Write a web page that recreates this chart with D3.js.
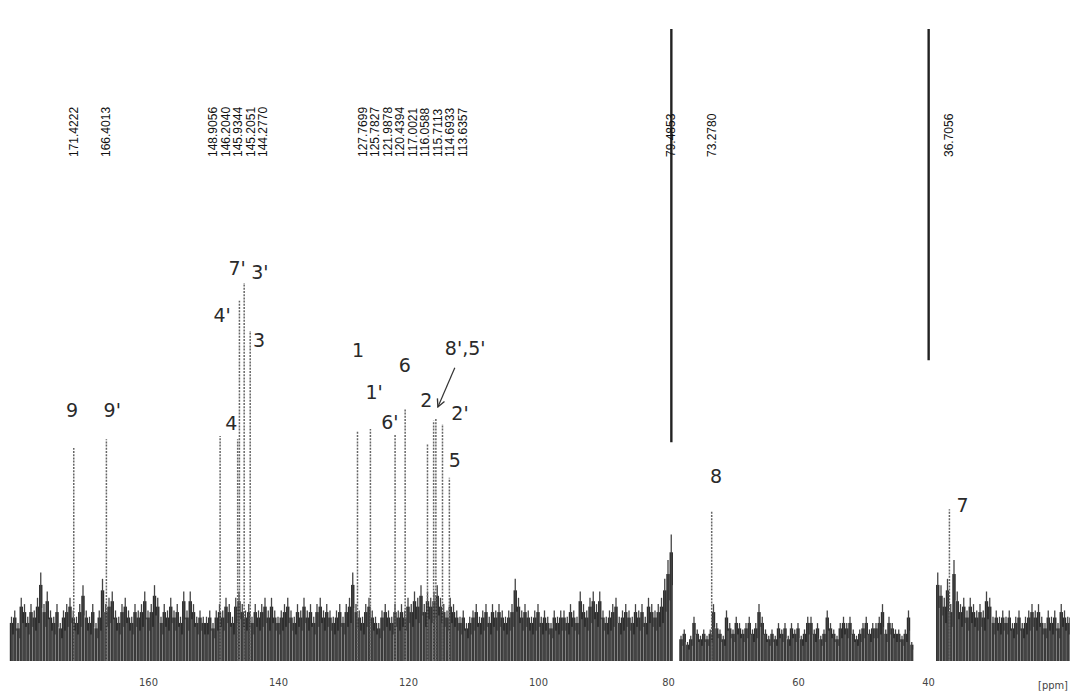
<!DOCTYPE html>
<html>
<head>
<meta charset="utf-8">
<script src="https://cdn.jsdelivr.net/npm/d3@7"></script>
<style>
  body { margin: 0; background: #fff; }
  svg { display: block; }
</style>
</head>
<body>
<div id="chart"></div>
<script>
// 13C spectrum, values
var ppmTicks = [160, 140, 120, 100, 80, 60, 40];

var peakPpm = [171.4222, 166.4013, 148.9056, 146.2040, 145.9344, 145.2051, 144.2770,
  127.7699, 125.7827, 121.9878, 120.4394, 117.0021, 116.0588, 115.7113, 114.6933, 113.6357,
  73.2780, 36.7056];
var peakHeight = [33.7, 35.1, 35.6, 35.1, 57, 59.8, 52.2,
  36.4, 36.7, 35.9, 39.9, 34.3, 38, 38.3, 37.5, 29,
  23.7, 24];

// peak list printed on top
var listPpm = [171.4222, 166.4013, 148.9056, 146.2040, 145.9344, 145.2051, 144.2770,
  127.7699, 125.7827, 121.9878, 120.4394, 117.0021, 116.0588, 115.7113, 114.6933, 113.6357,
  79.4853, 73.2780, 36.7056];

// solvent lines (cut in the scan)
var solventPpm = [79.4853, 39.9];
var solventTop = [100, 100];
var solventCut = [34.6, 47.6];

// baseline noise, three pieces, start ppm and 0.5 ppm step
var noiseStart = [181.0, 78.0, 38.5];
var noise1 = [7,8,6,10,9,7,9,8,10,14, 9,11,8,7,9,6,8,9,10,8, 7,9,12,8,7,9,6,8,13,9,
  10,11,8,7,9,10,8,7,9,8, 9,11,8,9,12,10,7,9,8,10, 8,9,7,11,8,11,9,7,8,7,
  7,8,6,8,9,8,10,9,7,10, 11,9,8,9,7,9,8,9,10,8, 10,8,7,8,9,10,8,7,9,8,
  10,8,9,7,9,10,8,9,8,7, 8,9,7,9,10,14,9,8,7,9, 10,8,7,6,8,9,8,7,9,8,
  9,8,10,9,11,10,12,9,11,10, 11,12,10,9,8,10,9,8,7,8, 6,7,8,9,7,8,9,7,9,8,
  9,8,7,8,9,13,10,8,9,8, 7,8,9,7,8,7,6,8,7,8, 8,7,9,8,7,11,9,8,10,11,
  9,11,8,7,8,9,10,7,8,9, 8,7,9,8,9,7,10,9,8,9, 10,13,16,20];
var noise2 = [4,5,3,4,7,5,4,5,4,5, 9,6,5,4,8,6,5,7,6,5, 6,7,5,6,9,7,5,4,5,4,
  6,5,6,4,6,5,6,4,5,7, 7,5,6,4,5,8,6,5,4,6, 7,6,7,5,4,5,6,7,5,6,
  6,7,9,5,7,6,5,5,4,5, 8,3];
var noise3 = [14,12,10,13,9,16,11,9,10,8, 10,9,8,9,8,11,10,7,8,7,
  8,7,8,6,7,8,6,7,8,9, 8,9,7,6,8,7,8,6,9,8, 7,8];

// assignments written on the spectrum
var labelText = ["9", "9'", "4", "4'", "7'", "3'", "3", "1", "6", "1'", "6'", "2", "8',5'", "2'", "5", "8", "7"];
var labelPpm = [171.7, 165.5, 147.2, 148.6, 146.3, 142.8, 142.9, 127.7, 120.5, 125.2, 122.8, 117.2, 111.2, 112.0, 112.8, 72.6, 34.7];
var labelInt = [38.6, 38.6, 36.6, 53.6, 61.1, 60.4, 49.7, 48.1, 45.7, 41.5, 36.7, 40.2, 48.4, 38.1, 30.7, 28.2, 23.6];

// arrow from 8',5' to the peak
var arrowPpm = [112.8, 115.4];
var arrowInt = [46.4, 40.2];

var width = 1070, height = 692;

var svg = d3.select("#chart").append("svg").attr("width", width).attr("height", height);

var x = d3.scaleLinear().domain([160, 40]).range([148, 928]);
var y = d3.scaleLinear().domain([0, 100]).range([661, 29]);

var defs = svg.append("defs");
defs.append("marker").attr("id", "head")
  .attr("viewBox", "0 0 10 10").attr("refX", 9).attr("refY", 5)
  .attr("markerWidth", 8).attr("markerHeight", 8).attr("orient", "auto")
  .append("path").attr("d", "M1,1 L9,5 L1,9").attr("fill", "none")
  .attr("stroke", "#333").attr("stroke-width", 1.4);

// noise
function noisePoints(vals, start) {
  return vals.map(function(v, i) { return {ppm: start - i * 0.5, v: v}; });
}
var noise = noisePoints(noise1, noiseStart[0])
  .concat(noisePoints(noise2, noiseStart[1]))
  .concat(noisePoints(noise3, noiseStart[2]));

var ng = svg.append("g");
// dark body
ng.selectAll("rect").data(noise).enter().append("rect")
  .attr("x", function(d) { return x(d.ppm) - 1.7; })
  .attr("width", 3.4)
  .attr("y", function(d) { return y(d.v * 0.86); })
  .attr("height", function(d) { return y(0) - y(d.v * 0.86); })
  .attr("fill", "#2a2a2a");
// thin spikes on top
ng.selectAll("line.spike").data(noise).enter().append("line")
  .attr("class", "spike")
  .attr("x1", function(d) { return x(d.ppm); })
  .attr("x2", function(d) { return x(d.ppm); })
  .attr("y1", y(0))
  .attr("y2", function(d) { return y(d.v); })
  .attr("stroke", "#444")
  .attr("stroke-width", 1.3);
// light streaks through the body
ng.selectAll("line.streak").data(noise).enter().append("line")
  .attr("class", "streak")
  .attr("x1", function(d) { return x(d.ppm) + 1.6; })
  .attr("x2", function(d) { return x(d.ppm) + 1.6; })
  .attr("y1", y(0))
  .attr("y2", function(d) { return y(d.v * 0.6); })
  .attr("stroke", "#fff")
  .attr("stroke-opacity", 0.5)
  .attr("stroke-width", 0.7);

// peaks
var peaks = peakPpm.map(function(p, i) { return {ppm: p, h: peakHeight[i]}; });
svg.append("g").selectAll("line").data(peaks).enter().append("line")
  .attr("x1", function(d) { return x(d.ppm); })
  .attr("x2", function(d) { return x(d.ppm); })
  .attr("y1", y(0))
  .attr("y2", function(d) { return y(d.h); })
  .attr("stroke", "#666")
  .attr("stroke-width", 1.5)
  .attr("stroke-dasharray", "2,1.2");

// solvent lines
svg.append("g").selectAll("line").data(solventPpm).enter().append("line")
  .attr("x1", function(d) { return x(d); })
  .attr("x2", function(d) { return x(d); })
  .attr("y1", function(d, i) { return y(solventTop[i]); })
  .attr("y2", function(d, i) { return y(solventCut[i]); })
  .attr("stroke", "#222")
  .attr("stroke-width", 2.4);

// peak list, spread so the labels don't collide
var gap = 12.5;
var items = listPpm.map(function(p) { return {ppm: p, px: x(p)}; });
var clusters = [];
items.forEach(function(d) {
  var last = clusters[clusters.length - 1];
  if (last && d.px - last[last.length - 1].px < 28) last.push(d);
  else clusters.push([d]);
});
clusters.forEach(function(c) {
  var mid = d3.mean(c, function(d) { return d.px; });
  c.forEach(function(d, i) { d.lx = c.length > 1 ? mid + (i - (c.length - 1) / 2) * gap : d.px; });
});

svg.append("g").selectAll("text").data(items).enter().append("text")
  .attr("transform", function(d) { return "translate(" + (d.lx + 4) + ",157) rotate(-90)"; })
  .attr("font-family", "Liberation Sans, Arial, sans-serif")
  .attr("font-size", 12)
  .attr("fill", "#111")
  .text(function(d) { return d.ppm.toFixed(4); });

// assignments
svg.append("g").selectAll("text").data(labelText).enter().append("text")
  .attr("x", function(d, i) { return x(labelPpm[i]); })
  .attr("y", function(d, i) { return y(labelInt[i]); })
  .attr("text-anchor", "middle")
  .attr("font-family", "DejaVu Sans, Verdana, sans-serif")
  .attr("font-size", 19)
  .attr("fill", "#2a2a2a")
  .text(function(d) { return d; });

svg.append("line")
  .attr("x1", x(arrowPpm[0])).attr("y1", y(arrowInt[0]))
  .attr("x2", x(arrowPpm[1])).attr("y2", y(arrowInt[1]))
  .attr("stroke", "#333").attr("stroke-width", 1.2)
  .attr("marker-end", "url(#head)");

// ppm axis
var axis = d3.axisBottom(x).tickValues(ppmTicks).tickSize(0).tickPadding(0);
var ax = svg.append("g").attr("transform", "translate(0,678)").call(axis);
ax.select(".domain").remove();
ax.selectAll("text")
  .attr("font-family", "DejaVu Sans Condensed, DejaVu Sans, sans-serif")
  .attr("font-size", 11)
  .attr("fill", "#444");

svg.append("text")
  .attr("x", 1053).attr("y", 689)
  .attr("text-anchor", "middle")
  .attr("font-family", "DejaVu Sans Condensed, DejaVu Sans, sans-serif")
  .attr("font-size", 11)
  .attr("fill", "#444")
  .text("[ppm]");
</script>
</body>
</html>
